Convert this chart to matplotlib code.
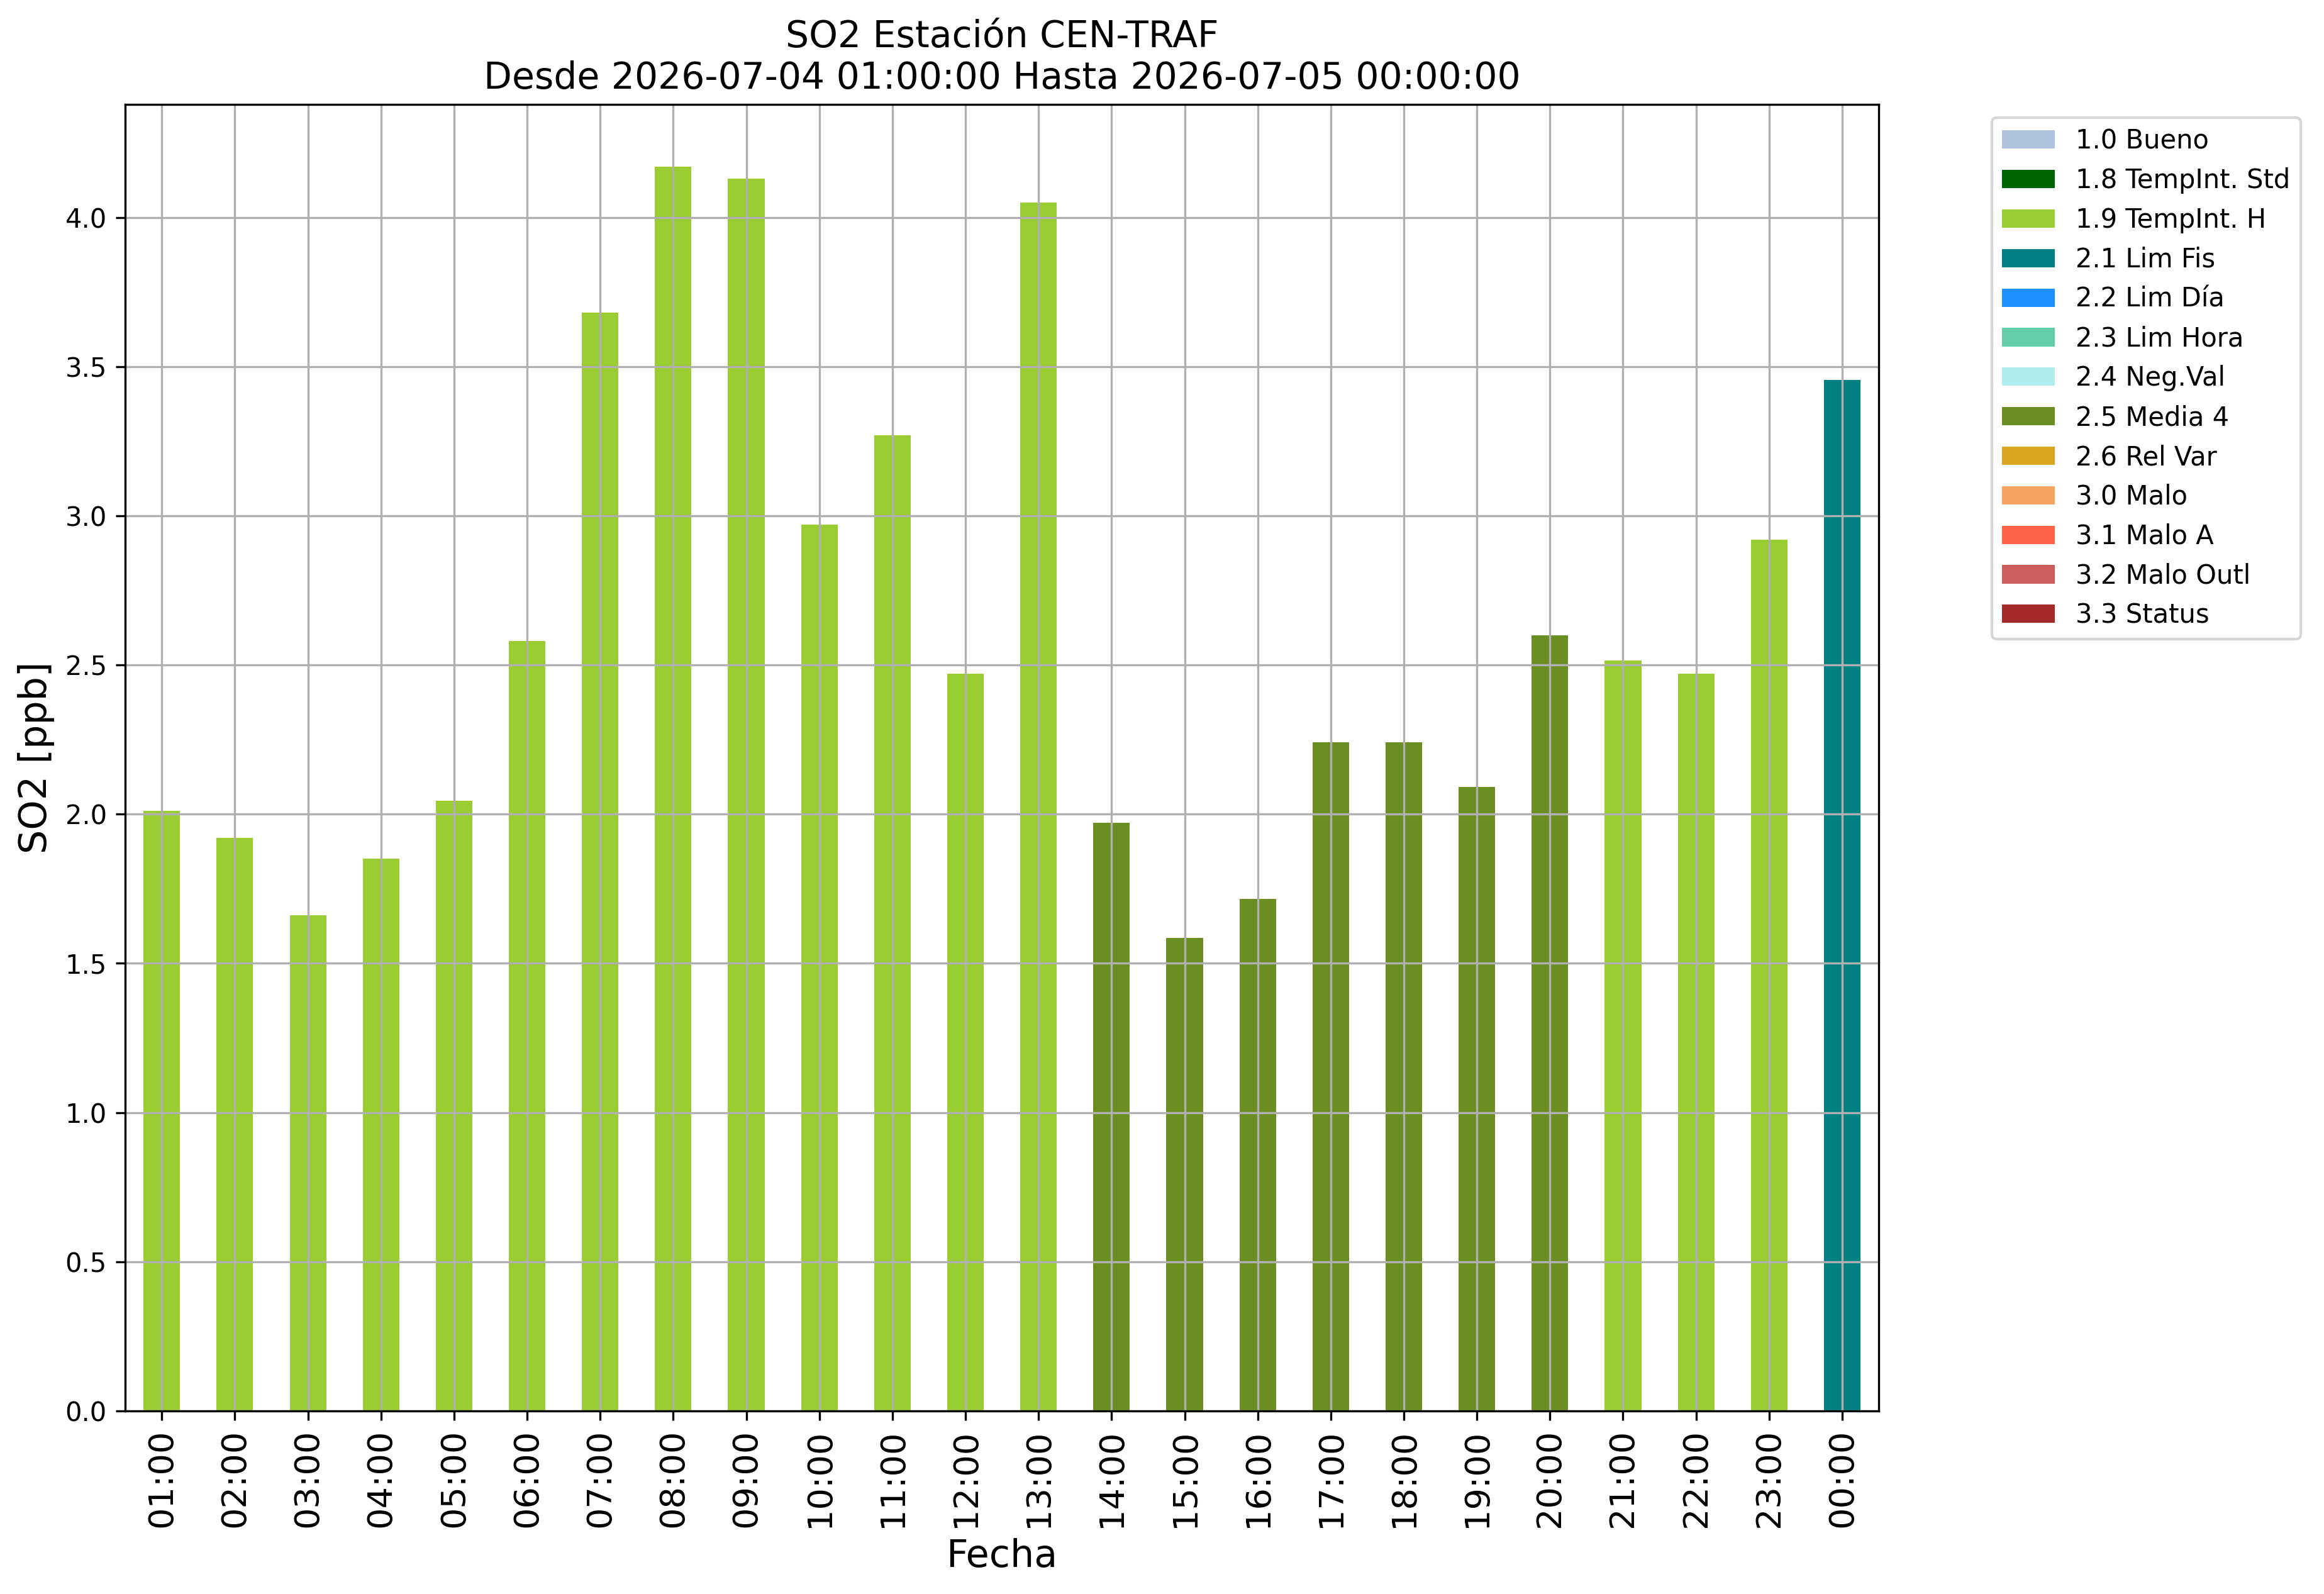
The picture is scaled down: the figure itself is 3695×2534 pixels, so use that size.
import matplotlib
matplotlib.use('Agg')
import matplotlib.pyplot as plt
import numpy as np

# hourly SO2 values [ppb]
horas = ['01:00', '02:00', '03:00', '04:00', '05:00', '06:00', '07:00', '08:00',
         '09:00', '10:00', '11:00', '12:00', '13:00', '14:00', '15:00', '16:00',
         '17:00', '18:00', '19:00', '20:00', '21:00', '22:00', '23:00', '00:00']
so2 = [2.01, 1.92, 1.66, 1.85, 2.045, 2.58, 3.68, 4.17,
       4.13, 2.97, 3.27, 2.47, 4.05, 1.97, 1.585, 1.715,
       2.24, 2.24, 2.09, 2.60, 2.515, 2.47, 2.92, 3.455]
# validation flag of each hour
flags = ['1.9', '1.9', '1.9', '1.9', '1.9', '1.9', '1.9', '1.9',
         '1.9', '1.9', '1.9', '1.9', '1.9', '2.5', '2.5', '2.5',
         '2.5', '2.5', '2.5', '2.5', '1.9', '1.9', '1.9', '2.1']

# legend categories
cat_codes = ['1.0', '1.8', '1.9', '2.1', '2.2', '2.3', '2.4', '2.5', '2.6',
             '3.0', '3.1', '3.2', '3.3']
cat_names = ['1.0 Bueno', '1.8 TempInt. Std', '1.9 TempInt. H', '2.1 Lim Fis',
             '2.2 Lim Día', '2.3 Lim Hora', '2.4 Neg.Val', '2.5 Media 4',
             '2.6 Rel Var', '3.0 Malo', '3.1 Malo A', '3.2 Malo Outl', '3.3 Status']
cat_colors = ['lightsteelblue', 'darkgreen', 'yellowgreen', 'teal', 'dodgerblue',
              'mediumaquamarine', 'paleturquoise', 'olivedrab', 'goldenrod',
              'sandybrown', 'tomato', 'indianred', 'brown']

dpi = 300
fig = plt.figure(figsize=(3695 / dpi, 2534 / dpi), dpi=dpi)
ax = fig.add_axes([0.0539, 0.1149, 0.7545, 0.8196])

x = np.arange(len(horas))
vals = np.array(so2)
fl = np.array(flags)
bottom = np.zeros(len(horas))
for code, name, col in zip(cat_codes, cat_names, cat_colors):
    h = np.where(fl == code, vals, 0.0)
    ax.bar(x, h, width=0.5, bottom=bottom, color=col, label=name)
    bottom += h

ax.set_xlim(-0.5, len(horas) - 0.5)
ax.set_ylim(0, max(so2) * 1.05)
ax.set_xticks(x)
ax.set_xticklabels(horas, rotation=90, fontsize=13)
ax.tick_params(axis='y', labelsize=10)
ax.grid(True)

ax.set_xlabel('Fecha', fontsize=14.5)
ax.set_ylabel('SO2 [ppb]', fontsize=14.5)
ax.set_title('SO2 Estación CEN-TRAF\nDesde 2026-07-04 01:00:00 Hasta 2026-07-05 00:00:00',
             fontsize=14)

ax.legend(bbox_to_anchor=(1.057, 1), loc='upper left', fontsize=10)

fig.savefig('out.png', dpi=dpi)
